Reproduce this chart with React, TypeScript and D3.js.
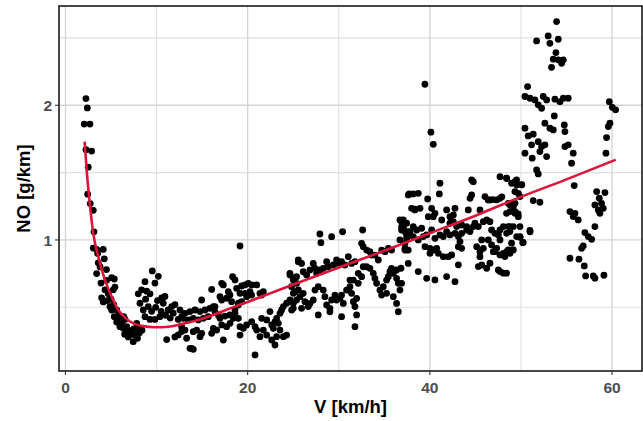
import React from "react";
import * as d3 from "d3";

const pointsLowSpeed: [number, number][] = [
  [2.25, 2.05], [2.4, 1.98], [2.06, 1.86], [2.69, 1.86], [2.25, 1.67], [2.87, 1.66], [2.5, 1.54],
  [2.44, 1.34], [2.72, 1.27], [3.05, 1.22], [3.13, 1.06], [3.05, 0.94], [3.42, 0.93], [3.53, 0.9],
  [4.15, 0.93], [4.26, 0.86], [3.6, 0.83], [3.42, 0.75], [3.9, 0.68], [4.52, 0.7], [5.07, 0.72],
  [5.36, 0.71], [4.34, 0.63], [3.97, 0.57], [4.15, 0.54], [4.7, 0.6], [5.25, 0.63], [5.43, 0.65],
  [4.88, 0.505], [5.07, 0.48], [5.62, 0.48], [5.36, 0.43], [5.8, 0.42], [6.17, 0.38], [5.62, 0.39],
  [6.53, 0.41], [6.72, 0.356], [7.08, 0.32], [7.44, 0.245], [6.89, 0.28], [6.34, 0.345], [7.82, 0.38],
  [7.99, 0.345], [7.63, 0.295], [5.98, 0.356], [4.6, 0.55], [5.0, 0.56], [5.9, 0.44], [6.4, 0.43],
  [6.9, 0.33], [7.2, 0.3], [7.5, 0.34], [6.5, 0.3], [7.9, 0.27], [8.1, 0.31], [5.3, 0.52], [4.5, 0.78],
  [3.8, 0.8], [8.4, 0.33],
];

const pointsBand8to13: [number, number][] = [
  [9.53, 0.77], [10.19, 0.73], [8.73, 0.69], [9.82, 0.68], [8.36, 0.63], [8.91, 0.62], [9.28, 0.6],
  [7.99, 0.6], [8.18, 0.53], [8.54, 0.48], [9.09, 0.505], [9.46, 0.47], [8.73, 0.43], [9.28, 0.41],
  [9.82, 0.41], [10.37, 0.43], [10.56, 0.57], [10.92, 0.58], [10.74, 0.53], [11.28, 0.48], [11.66, 0.505],
  [12.02, 0.52], [11.83, 0.456], [12.38, 0.41], [12.76, 0.43], [11.11, 0.26], [12.02, 0.28], [12.38, 0.295],
  [12.76, 0.32], [9.9, 0.5], [10.5, 0.47], [11.0, 0.44], [11.5, 0.42], [10.1, 0.55], [8.8, 0.56],
];

const pointsBand13to26: [number, number][] = [
  [19.16, 0.955], [12.57, 0.48], [13.12, 0.455], [13.67, 0.468], [14.22, 0.48], [14.77, 0.468], [15.32, 0.48],
  [15.86, 0.492], [16.23, 0.505], [16.41, 0.468], [16.78, 0.443], [15.68, 0.43], [15.13, 0.418], [14.58, 0.406],
  [14.03, 0.418], [13.49, 0.406], [12.94, 0.418], [12.75, 0.356], [13.12, 0.331], [13.3, 0.27], [14.03, 0.319],
  [14.4, 0.331], [14.77, 0.282], [14.95, 0.307], [13.85, 0.195], [14.03, 0.188], [13.67, 0.195], [16.05, 0.307],
  [16.6, 0.331], [17.15, 0.369], [17.33, 0.257], [16.23, 0.344], [16.96, 0.418], [17.51, 0.435], [18.06, 0.443],
  [18.43, 0.418], [18.61, 0.455], [18.98, 0.418], [18.06, 0.381], [17.69, 0.356], [14.95, 0.554], [16.05, 0.633],
  [17.15, 0.678], [17.33, 0.666], [18.35, 0.727], [18.61, 0.703], [18.79, 0.641], [17.88, 0.616], [18.06, 0.591],
  [17.69, 0.567], [18.24, 0.542], [16.96, 0.579], [17.15, 0.554], [16.41, 0.505], [19.34, 0.658], [19.71, 0.666],
  [20.07, 0.678], [20.44, 0.666], [20.99, 0.666], [20.26, 0.616], [20.44, 0.591], [21.35, 0.604], [21.72, 0.616],
  [21.54, 0.591], [19.71, 0.604], [19.89, 0.579], [19.16, 0.604], [19.34, 0.542], [18.98, 0.517], [18.61, 0.48],
  [18.98, 0.53], [19.16, 0.356], [19.52, 0.344], [19.89, 0.369], [20.44, 0.393], [20.81, 0.356], [20.99, 0.331],
  [21.35, 0.282], [21.54, 0.418], [22.09, 0.406], [22.45, 0.468], [22.64, 0.369], [22.82, 0.344], [23.0, 0.393],
  [23.18, 0.418], [23.37, 0.381], [23.55, 0.455], [23.73, 0.48], [23.92, 0.505], [24.28, 0.53], [24.65, 0.554],
  [24.83, 0.48], [25.01, 0.53], [23.55, 0.331], [23.18, 0.282], [22.64, 0.257], [23.92, 0.282], [24.28, 0.294],
  [22.09, 0.294], [21.72, 0.331], [20.81, 0.146], [19.16, 0.294], [23.0, 0.22], [24.65, 0.74], [25.01, 0.703],
  [25.38, 0.678], [25.56, 0.839], [25.56, 0.629],
];

const pointsBand25to38: [number, number][] = [
  [27.93, 1.044], [28.04, 0.98], [29.22, 1.024], [30.42, 1.061], [32.62, 1.074], [24.64, 0.752], [25.01, 0.715],
  [25.37, 0.727], [25.56, 0.851], [25.92, 0.826], [26.1, 0.764], [26.47, 0.74], [26.84, 0.777], [27.2, 0.826],
  [27.39, 0.789], [27.57, 0.752], [27.93, 0.777], [28.3, 0.789], [28.67, 0.839], [28.85, 0.801], [29.4, 0.814],
  [29.76, 0.851], [29.95, 0.826], [30.31, 0.839], [30.68, 0.814], [31.05, 0.876], [31.41, 0.826], [31.78, 0.839],
  [32.51, 0.975], [32.69, 0.95], [33.06, 0.925], [33.42, 0.913], [33.61, 0.888], [33.97, 0.888], [34.34, 0.851],
  [34.71, 0.925], [35.07, 0.913], [35.44, 0.938], [35.8, 0.925], [24.82, 0.653], [25.01, 0.604], [25.19, 0.616],
  [25.37, 0.554], [25.74, 0.579], [26.1, 0.604], [26.29, 0.542], [26.65, 0.505], [26.84, 0.529], [27.2, 0.554],
  [27.39, 0.628], [27.75, 0.653], [28.3, 0.628], [28.48, 0.579], [28.67, 0.517], [29.03, 0.492], [29.22, 0.554],
  [29.58, 0.591], [29.76, 0.554], [30.13, 0.566], [30.31, 0.591], [30.5, 0.529], [30.86, 0.628], [31.23, 0.653],
  [31.41, 0.604], [31.6, 0.542], [31.78, 0.505], [31.96, 0.566], [31.23, 0.702], [31.6, 0.702], [32.14, 0.678],
  [32.51, 0.727], [32.14, 0.752], [32.69, 0.801], [33.06, 0.801], [33.42, 0.789], [33.79, 0.752], [33.97, 0.715],
  [34.16, 0.678], [34.52, 0.628], [34.71, 0.591], [34.89, 0.653], [35.25, 0.702], [35.44, 0.727], [35.62, 0.764],
  [35.8, 0.789], [35.99, 0.752], [36.35, 0.777], [36.35, 0.715], [36.54, 0.678], [36.72, 0.628], [36.35, 0.529],
  [36.54, 0.467], [35.99, 0.579], [35.25, 0.604], [29.03, 0.467], [31.96, 0.443], [31.78, 0.356], [30.31, 0.43],
  [27.75, 0.443], [25.92, 0.492], [25.01, 0.492], [36.9, 1.136], [37.08, 1.086], [37.27, 1.061], [37.45, 1.037],
  [37.63, 1.334], [37.63, 0.925], [37.27, 0.925], [37.63, 0.826], [38.0, 1.235], [38.36, 1.223], [37.08, 1.148],
  [36.9, 1.099], [37.63, 1.062], [37.27, 0.975], [37.45, 0.926],
];

const pointsBand37to50: [number, number][] = [
  [39.46, 2.156], [40.12, 1.8], [40.38, 1.71], [41.11, 1.421], [41.04, 1.342], [37.74, 1.342], [38.18, 1.342],
  [38.73, 1.346], [39.76, 1.304], [38.37, 1.228], [38.92, 1.235], [40.2, 1.235], [40.38, 1.173],
  [39.83, 1.173], [40.56, 1.198], [41.84, 1.223], [42.76, 1.235], [42.58, 1.186], [42.21, 1.173], [44.22, 1.223],
  [44.59, 1.445], [44.77, 1.433], [44.41, 1.309], [44.59, 1.334], [46.05, 1.322], [46.6, 1.297], [47.33, 1.297],
  [47.7, 1.309], [47.7, 1.47], [48.43, 1.458], [49.35, 1.433], [49.53, 1.408], [48.8, 1.26], [49.35, 1.272],
  [49.71, 1.346], [45.5, 1.223], [46.24, 1.148], [46.6, 1.136], [45.87, 1.136], [45.32, 1.099], [44.95, 1.124],
  [44.04, 1.099], [43.49, 1.111], [42.94, 1.099], [42.58, 1.136], [42.21, 1.124], [41.3, 1.148], [36.72, 1.149],
  [37.09, 1.099], [37.45, 1.124], [36.9, 1.074], [37.82, 1.062], [38.18, 1.099], [38.55, 1.074], [39.1, 1.087],
  [39.28, 1.025], [38.73, 1.0], [38.18, 1.025], [37.45, 1.012], [37.27, 0.938], [36.72, 1.0], [39.65, 1.037],
  [40.2, 1.074], [40.56, 1.012], [41.11, 1.037], [41.48, 1.025], [41.84, 1.062], [42.21, 1.037], [42.76, 1.049],
  [43.13, 1.025], [43.49, 1.049], [44.04, 1.074], [44.41, 1.062], [44.77, 1.099], [39.47, 0.95], [40.02, 0.938],
  [40.38, 0.926], [40.75, 0.938], [40.02, 0.901], [40.93, 0.901], [41.48, 0.876], [42.03, 0.876], [42.39, 0.889],
  [43.13, 0.95], [43.31, 0.988], [43.49, 0.938], [43.13, 0.815], [41.84, 0.728], [42.76, 0.69], [40.56, 0.703],
  [39.65, 0.715], [38.73, 0.765], [36.9, 0.678], [36.83, 0.79], [45.14, 0.95], [45.5, 0.913], [45.87, 0.938],
  [45.69, 1.0], [46.42, 1.0], [46.78, 1.074], [47.15, 1.049], [47.52, 1.037], [47.7, 1.074], [48.07, 1.099],
  [48.43, 1.049], [48.8, 1.099], [49.16, 1.099], [47.7, 1.0], [47.33, 0.938], [46.97, 0.913], [46.78, 0.963],
  [45.5, 0.876], [45.32, 0.802], [45.69, 0.814], [46.24, 0.79], [46.6, 0.827], [47.15, 0.913], [47.7, 0.889],
  [48.07, 0.901], [48.43, 0.913], [48.8, 0.901], [49.53, 1.025], [47.52, 0.777], [47.7, 0.765], [48.07, 0.753],
  [49.35, 1.21], [49.71, 1.173], [50.1, 1.41], [46.4, 1.297], [46.9, 1.3], [47.9, 1.32], [51.0, 1.06],
  [50.2, 0.98], [49.9, 1.02],
];

const pointsHighSpeed: [number, number][] = [
  [53.91, 2.621], [51.72, 2.478], [52.99, 2.515], [53.18, 2.46], [54.1, 2.49], [53.84, 2.391], [53.55, 2.342],
  [54.1, 2.337], [54.65, 2.337], [54.46, 2.312], [53.36, 2.282], [50.73, 2.139], [50.44, 2.065], [50.99, 2.052],
  [51.53, 2.04], [51.9, 2.003], [52.27, 1.978], [52.45, 2.065], [52.82, 2.04], [53.73, 2.045], [54.28, 2.027],
  [54.65, 2.052], [55.19, 2.052], [53.66, 1.921], [52.63, 1.867], [53.18, 1.83], [53.55, 1.817], [54.76, 1.854],
  [54.83, 1.805], [50.44, 1.83], [50.8, 1.772], [51.35, 1.785], [51.17, 1.706], [51.9, 1.73], [52.27, 1.693],
  [52.63, 1.706], [52.08, 1.656], [52.82, 1.619], [50.44, 1.644], [51.24, 1.607], [54.83, 1.693], [55.19, 1.706],
  [55.74, 1.644], [55.56, 1.57], [51.72, 1.52], [51.9, 1.49], [51.35, 1.292], [52.08, 1.28], [55.85, 1.404],
  [55.38, 1.211], [55.93, 1.198], [55.74, 1.174], [56.29, 1.149], [57.02, 1.055], [57.39, 1.025], [57.76, 1.005],
  [56.84, 0.956], [56.66, 0.938], [58.12, 1.099], [55.38, 0.864], [56.37, 0.857], [56.95, 0.807], [57.1, 0.733],
  [57.94, 0.733], [58.12, 0.716], [59.11, 0.738], [58.31, 1.359], [59.22, 1.352], [58.6, 1.31], [58.12, 1.26],
  [58.85, 1.272], [59.04, 1.235], [58.67, 1.198], [58.49, 1.223], [59.7, 2.027], [60.03, 1.985], [60.39, 1.966],
  [59.77, 1.867], [59.59, 1.842], [59.4, 1.76], [59.33, 1.644], [48.42, 1.458], [48.97, 1.421], [49.52, 1.446],
  [50.07, 1.409], [49.34, 1.359], [49.89, 1.322], [48.61, 1.272], [49.16, 1.248], [48.42, 1.198], [48.79, 1.211],
  [49.34, 1.198], [49.7, 1.193], [48.61, 1.099], [48.79, 1.062], [49.89, 1.099], [50.99, 1.07], [49.89, 1.025],
  [50.25, 0.981], [48.97, 0.976], [48.61, 0.926], [48.24, 0.877], [49.16, 0.926], [48.42, 0.753],
];

// Fitted curve
const fitSpeed = [2.1, 2.35, 2.7, 3.05, 3.6, 4.35, 5.1, 5.8, 6.5, 7.4, 8.4, 9.8, 11.3, 12.7, 14.5, 16.2, 18, 20, 23.5, 27, 31, 35, 40, 45, 50, 55, 60.4];
const fitNO = [1.73, 1.5, 1.25, 1.05, 0.875, 0.7, 0.575, 0.48, 0.425, 0.382, 0.362, 0.352, 0.356, 0.375, 0.405, 0.443, 0.49, 0.54, 0.63, 0.72, 0.82, 0.92, 1.05, 1.18, 1.32, 1.45, 1.595];

const xMajorTicks = [0, 20, 40, 60];
const xMinorTicks = [10, 30, 50];
const yMajorTicks = [1, 2];
const yMinorTicks = [0.5, 1.5, 2.5];

const W = 643;
const H = 421;
const panel = { left: 59, right: 642, top: 6, bottom: 371 };

export default function App() {
  const x = d3.scaleLinear().domain([-0.71, 63.29]).range([panel.left, panel.right]);
  const y = d3.scaleLinear().domain([0.027, 2.737]).range([panel.bottom, panel.top]);

  const allPoints = [
    ...pointsLowSpeed,
    ...pointsBand8to13,
    ...pointsBand13to26,
    ...pointsBand25to38,
    ...pointsBand37to50,
    ...pointsHighSpeed,
  ];

  const fitData = fitSpeed.map((v, i) => [v, fitNO[i]] as [number, number]);
  const line = d3
    .line<[number, number]>()
    .x((d) => x(d[0]))
    .y((d) => y(d[1]))
    .curve(d3.curveMonotoneX);

  const font = "'Liberation Sans', Arial, Helvetica, sans-serif";
  const gridColor = "#d4d4d4";

  return (
    <svg
      width={W}
      height={H}
      style={{ position: "absolute", left: 0, top: 0, background: "#fff" }}
    >
      <rect x={0} y={0} width={W} height={H} fill="#fff" />
      <g>
        {xMinorTicks.map((t) => (
          <line key={"xm" + t} x1={x(t)} x2={x(t)} y1={panel.top} y2={panel.bottom} stroke="#e0e0e0" strokeWidth={1.1} />
        ))}
        {yMinorTicks.map((t) => (
          <line key={"ym" + t} x1={panel.left} x2={panel.right} y1={y(t)} y2={y(t)} stroke="#e0e0e0" strokeWidth={1.1} />
        ))}
        {xMajorTicks.map((t) => (
          <line key={"xM" + t} x1={x(t)} x2={x(t)} y1={panel.top} y2={panel.bottom} stroke={gridColor} strokeWidth={1.3} />
        ))}
        {yMajorTicks.map((t) => (
          <line key={"yM" + t} x1={panel.left} x2={panel.right} y1={y(t)} y2={y(t)} stroke={gridColor} strokeWidth={1.3} />
        ))}
      </g>
      <g>
        {allPoints.map((d, i) => (
          <circle key={i} cx={x(d[0])} cy={y(d[1])} r={3.4} fill="#000" />
        ))}
      </g>
      <path d={line(fitData) || ""} fill="none" stroke="#dc143c" strokeWidth={2.6} />
      <rect
        x={panel.left}
        y={panel.top}
        width={panel.right - panel.left}
        height={panel.bottom - panel.top}
        fill="none"
        stroke="#1a1a1a"
        strokeWidth={1.6}
      />
      <g>
        {xMajorTicks.map((t) => (
          <g key={"xt" + t}>
            <line x1={x(t)} x2={x(t)} y1={panel.bottom} y2={panel.bottom + 4} stroke="#333" strokeWidth={1.1} />
            <text x={x(t)} y={392.5} textAnchor="middle" fontFamily={font} fontWeight="bold" fontSize={15.5} fill="#4d4d4d">
              {t}
            </text>
          </g>
        ))}
        {yMajorTicks.map((t) => (
          <g key={"yt" + t}>
            <line x1={panel.left - 4} x2={panel.left} y1={y(t)} y2={y(t)} stroke="#333" strokeWidth={1.1} />
            <text x={52} y={y(t)} dy="0.36em" textAnchor="end" fontFamily={font} fontWeight="bold" fontSize={15.5} fill="#4d4d4d">
              {t}
            </text>
          </g>
        ))}
      </g>
      <text x={(panel.left + panel.right) / 2} y={413} textAnchor="middle" fontFamily={font} fontWeight="bold" fontSize={18.5} fill="#000">
        V [km/h]
      </text>
      <text
        transform={`translate(30, ${(panel.top + panel.bottom) / 2}) rotate(-90)`}
        textAnchor="middle"
        fontFamily={font}
        fontWeight="bold"
        fontSize={18.5}
        fill="#000"
      >
        NO [g/km]
      </text>
    </svg>
  );
}
